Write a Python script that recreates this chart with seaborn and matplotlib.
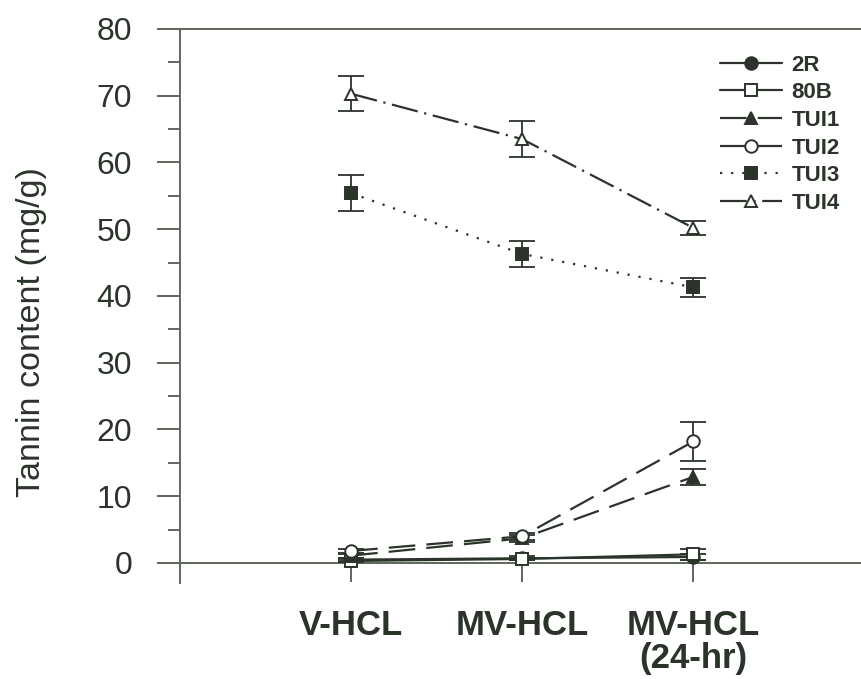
import matplotlib
matplotlib.use("Agg")
import matplotlib.pyplot as plt
import seaborn as sns
import pandas as pd

categories = ["V-HCL", "MV-HCL", "MV-HCL (24-hr)"]
tick_labels = ["V-HCL", "MV-HCL", "MV-HCL\n(24-hr)"]
series = ["2R", "80B", "TUI1", "TUI2", "TUI3", "TUI4"]
means = {
    "2R":   [0.5, 0.7, 0.9],
    "80B":  [0.3, 0.6, 1.3],
    "TUI1": [1.1, 3.7, 12.9],
    "TUI2": [1.8, 4.0, 18.2],
    "TUI3": [55.4, 46.3, 41.3],
    "TUI4": [70.3, 63.5, 50.2],
}
errs = {
    "2R":   [0.3, 0.3, 0.4],
    "80B":  [0.2, 0.2, 0.8],
    "TUI1": [0.3, 0.5, 1.2],
    "TUI2": [0.3, 0.5, 2.9],
    "TUI3": [2.7, 1.9, 1.4],
    "TUI4": [2.6, 2.7, 1.1],
}

ink = "#2b332b"
axis_col = "#5f665c"

styles = {
    "2R":   dict(marker="o", mfc=ink, ls="-"),
    "80B":  dict(marker="s", mfc="white", ls="-"),
    "TUI1": dict(marker="^", mfc=ink, ls=(0, (12, 5))),
    "TUI2": dict(marker="o", mfc="white", ls=(0, (12, 5))),
    "TUI3": dict(marker="s", mfc=ink, ls=(0, (1, 4))),
    "TUI4": dict(marker="^", mfc="white", ls=(0, (12, 3, 1, 3))),
}

sns.set_style("white")
plt.rcParams["font.family"] = ["Liberation Sans", "DejaVu Sans"]

fig = plt.figure(figsize=(8.61, 6.79), dpi=100)
ax = fig.add_axes([180 / 861, 96 / 679, 1 - 180 / 861, (583 - 29) / 679])

rows = []
for s in series:
    for i, (c, m, e) in enumerate(zip(categories, means[s], errs[s])):
        rows.append({"cat": c, "pos": i, "val": m, "err": e, "series": s})
df = pd.DataFrame(rows)

for s in series:
    d = df[df["series"] == s]
    st = styles[s]
    ax.errorbar(d["pos"], d["val"], yerr=d["err"], fmt="none", ecolor=ink,
                elinewidth=1.3, capsize=9.5, capthick=1.3, zorder=2)
    sns.lineplot(data=d, x="pos", y="val", ax=ax, color=ink, lw=1.6,
                 linestyle=st["ls"], marker=st["marker"], markersize=9,
                 markerfacecolor=st["mfc"], markeredgecolor=ink,
                 markeredgewidth=1.4, label=s, zorder=3, sort=False)

ax.spines["bottom"].set_position(("data", 0))
ax.spines["right"].set_visible(False)
for sp in ["left", "top", "bottom"]:
    ax.spines[sp].set_color(axis_col)
    ax.spines[sp].set_linewidth(1.4)
ax.spines["bottom"].set_zorder(1)

ax.set_xlim(-1.0, 2.98)
ax.set_ylim(-3, 80)
ax.set_xticks(range(len(categories)))
ax.set_xticklabels(tick_labels, fontsize=25, fontweight="bold", color=ink,
                   linespacing=1.0)
ax.set_yticks(range(0, 81, 10))
ax.set_yticklabels([str(v) for v in range(0, 81, 10)], fontsize=23, color=ink)
ax.set_yticks(range(5, 80, 10), minor=True)
ax.tick_params(axis="y", which="major", direction="out", length=16.5,
               width=1.4, color=axis_col, pad=18, left=True)
ax.tick_params(axis="y", which="minor", direction="out", length=8.5,
               width=1.4, color=axis_col, left=True)
ax.tick_params(axis="x", which="major", direction="out", length=14,
               width=1.4, color=axis_col, pad=19, bottom=True)

ax.set_xlabel("")
ax.set_ylabel("Tannin content (mg/g)", fontsize=24.5, color=ink)
ax.yaxis.set_label_coords(-0.195, 0.453)

leg = ax.legend(loc="upper right", bbox_to_anchor=(0.992, 0.982), frameon=False,
                handlelength=2.8, handletextpad=0.45, borderaxespad=0.3,
                labelspacing=0.3, prop={"weight": "bold", "size": 16})
for t in leg.get_texts():
    t.set_color(ink)
    t.set_fontweight("bold")

fig.savefig("out.png", dpi=100)
